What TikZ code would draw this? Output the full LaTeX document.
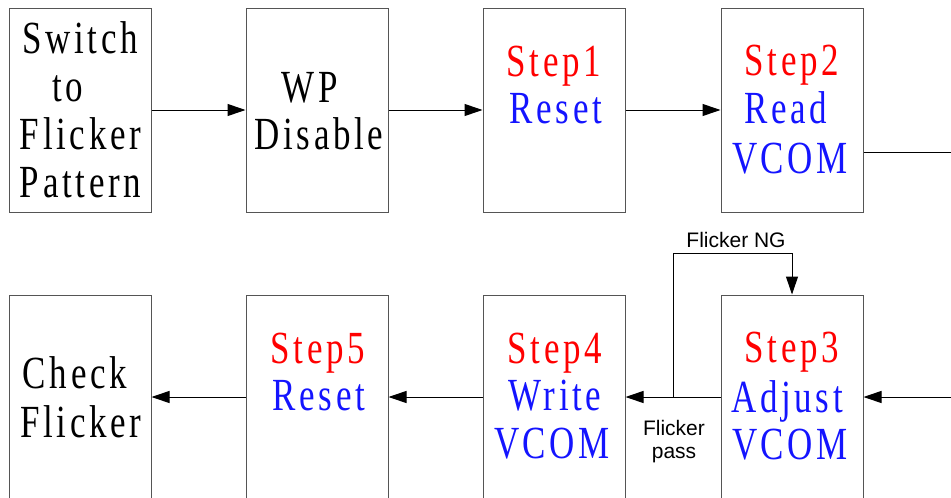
\documentclass[tikz,border=0pt]{standalone}
\usepackage{fontspec}
\usetikzlibrary{arrows.meta}
\newfontfamily\serifw[FakeStretch=0.76,LetterSpace=8]{Liberation Serif}
\newfontfamily\sansw{Liberation Sans}
\definecolor{boxgray}{RGB}{85,85,85}
\definecolor{stepred}{RGB}{255,0,0}
\definecolor{txtblue}{RGB}{20,20,255}
\tikzset{
  box/.style={draw=boxgray, line width=1pt, rectangle, minimum width=142pt, minimum height=204pt, inner sep=0pt},
  lbl/.style={inner sep=0pt, anchor=base, font=\serifw\fontsize{46}{48}\selectfont},
  slbl/.style={inner sep=0pt, anchor=base, font=\sansw\fontsize{21}{23}\selectfont},
  conn/.style={line width=1pt, black},
  arr/.style={conn, -{Triangle[length=18pt,width=12pt]}}
}
\begin{document}
\begin{tikzpicture}[x=1pt,y=-1pt]
\useasboundingbox (0,0) rectangle (951,498);
\clip (0,0) rectangle (951,498);
% boxes
\node[box] (b1) at (80,110) {};
\node[box] (b2) at (317,110) {};
\node[box] (b3) at (554,110) {};
\node[box] (b4) at (792,110) {};
\node[box] (b5) at (80,397) {};
\node[box] (b6) at (317,397) {};
\node[box] (b7) at (554,397) {};
\node[box] (b8) at (792,397) {};
% texts top row
\node[lbl] (t1a) at (80,53) {Switch};
\node[lbl] (t1b) at (68,101) {to};
\node[lbl] (t1c) at (80.5,149) {Flicker};
\node[lbl] (t1d) at (80.5,197) {Pattern};
\node[lbl] (t2a) at (310,102) {WP};
\node[lbl] (t2b) at (319,149) {Disable};
\node[lbl, text=stepred] (t3a) at (554,76) {Step1};
\node[lbl, text=txtblue] (t3b) at (556,123) {Reset};
\node[lbl, text=stepred] (t4a) at (792,75) {Step2};
\node[lbl, text=txtblue] (t4b) at (786,123) {Read};
\node[lbl, text=txtblue] (t4c) at (790,173) {VCOM};
% texts bottom row
\node[lbl] (t5a) at (75,388) {Check};
\node[lbl] (t5b) at (81,437) {Flicker};
\node[lbl, text=stepred] (t6a) at (318,363) {Step5};
\node[lbl, text=txtblue] (t6b) at (319,410) {Reset};
\node[lbl, text=stepred] (t7a) at (555,363) {Step4};
\node[lbl, text=txtblue] (t7b) at (555,410) {Write};
\node[lbl, text=txtblue] (t7c) at (552,458) {VCOM};
\node[lbl, text=stepred] (t8a) at (792,362) {Step3};
\node[lbl, text=txtblue] (t8b) at (787,412) {Adjust};
\node[lbl, text=txtblue] (t8c) at (790,459) {VCOM};
% sans labels
\node[slbl] (ng) at (736,247) {Flicker NG};
\node[slbl] (pass1) at (674,435) {Flicker};
\node[slbl] (pass2) at (674,458) {pass};
% connectors
\coordinate (rtop) at (951,152);
\coordinate (rbot) at (951,397);
\coordinate (split) at (673,397);
\draw[arr] (b1) -- (b2);
\draw[arr] (b2) -- (b3);
\draw[arr] (b3) -- (b4);
\draw[conn] ([yshift=-42pt]b4.east) -- (rtop);
\draw[arr] (rbot) -- (b8);
\draw[arr] (b8) -- (b7);
\draw[arr] (split) |- ([yshift=41pt]b8.north) -- (b8.north);
\draw[arr] (b7) -- (b6);
\draw[arr] (b6) -- (b5);
\end{tikzpicture}
\end{document}
